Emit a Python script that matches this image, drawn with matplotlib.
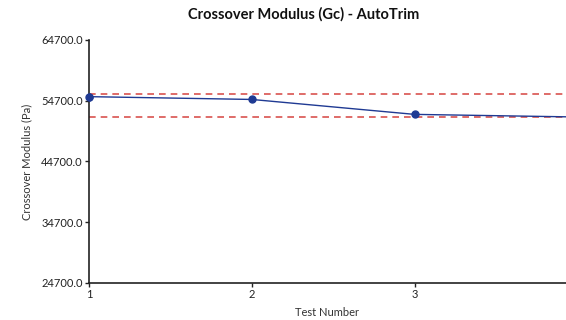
import matplotlib
matplotlib.use("Agg")
import matplotlib.pyplot as plt
from matplotlib.ticker import FormatStrFormatter

test_numbers = [1, 2, 3, 4]
gc_values = [55370, 54910, 52450, 52020]
upper_limit = 55840
lower_limit = 52000
y_ticks = [24700, 34700, 44700, 54700, 64700]
x_ticks = [1, 2, 3]

plt.rcParams['font.family'] = ['Lato', 'DejaVu Sans']

fig = plt.figure(figsize=(5.66, 3.20), dpi=100)
ax = fig.add_axes([0.157, 0.116, 0.843, 0.759])

ax.axhline(upper_limit, color='#d9534f', linestyle=(0, (4, 3)), linewidth=1.2, zorder=1)
ax.axhline(lower_limit, color='#d9534f', linestyle=(0, (4, 3)), linewidth=1.2, zorder=1)
ax.plot(test_numbers, gc_values, color='#1f3a93', linewidth=1.0, marker='o',
        markersize=5, clip_on=True, zorder=3)
ax.plot(test_numbers[:1], gc_values[:1], color='#1f3a93', marker='o',
        markersize=5, clip_on=False, zorder=4)

ax.set_xlim(1, 3.93)
ax.set_ylim(24700, 64700)
ax.set_xticks(x_ticks)
ax.set_yticks(y_ticks)
ax.yaxis.set_major_formatter(FormatStrFormatter('%.1f'))

for s in ['top', 'right']:
    ax.spines[s].set_visible(False)
for s in ['left', 'bottom']:
    ax.spines[s].set_color('#222222')
    ax.spines[s].set_linewidth(1.2)
ax.tick_params(axis='both', direction='out', length=3, width=1, labelsize=8, colors='#222222', pad=1.5)

ax.set_xlabel('Test Number', fontsize=8, color='#333333', labelpad=5)
ax.set_ylabel('Crossover Modulus (Pa)', fontsize=8, color='#333333', labelpad=6)
fig.text(0.536, 0.955, 'Crossover Modulus (Gc) - AutoTrim', ha='center', va='center',
         fontsize=10.5, fontweight='bold', color='#111111')

fig.savefig('out.png', dpi=100)
